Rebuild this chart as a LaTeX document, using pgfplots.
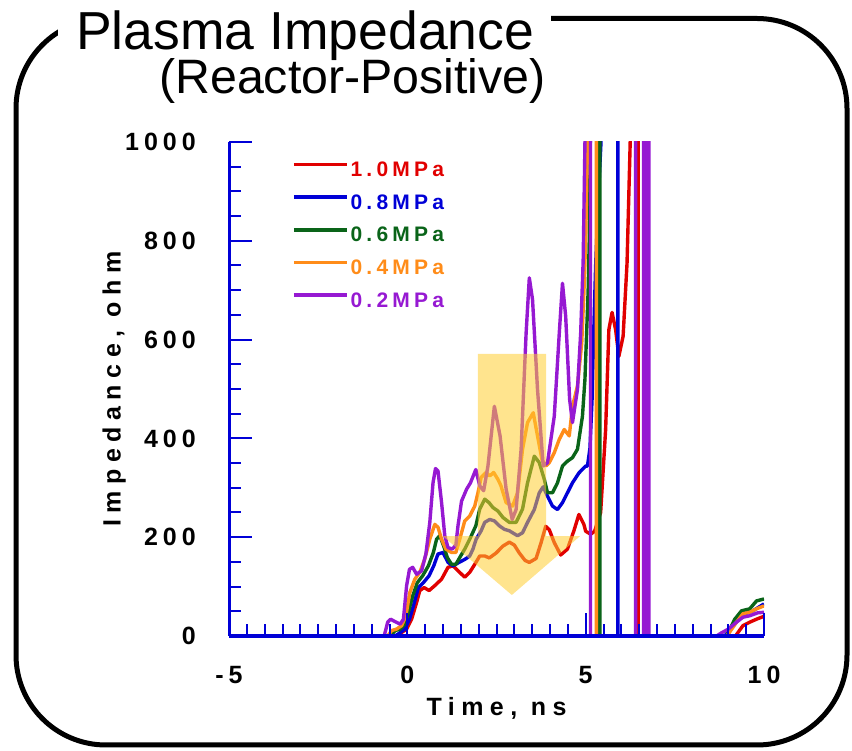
\documentclass[border=0pt]{standalone}
\usepackage{fontspec}
\setmainfont{Liberation Sans}
\newfontfamily\spaced{Liberation Sans}[LetterSpace=20]
\newfontfamily\spacedw{Liberation Sans}[LetterSpace=26]
\usepackage{pgfplots}
\pgfplotsset{compat=1.18}

\definecolor{cred}{RGB}{225,0,0}
\definecolor{cblue}{RGB}{0,0,215}
\definecolor{cgreen}{RGB}{10,100,25}
\definecolor{corange}{RGB}{255,140,25}
\definecolor{cpurple}{RGB}{150,25,210}
\definecolor{carrow}{RGB}{255,205,50}

\newcommand{\tickf}{\spaced\bfseries\fontsize{25bp}{30bp}\selectfont}
\newcommand{\labf}{\spacedw\bfseries\fontsize{25bp}{30bp}\selectfont}
\newcommand{\legf}{\spaced\bfseries\fontsize{21bp}{25bp}\selectfont}

\begin{document}
\begin{tikzpicture}
\useasboundingbox (0,0) rectangle (852bp,751bp);

% rounded frame
\draw[line width=5bp, rounded corners=90bp] (16bp,6bp) rectangle (847bp,732.5bp);

\begin{axis}[
    at={(229bp,115bp)}, anchor=south west,
    scale only axis, width=535bp, height=494bp,
    xmin=-5, xmax=10, ymin=0, ymax=1000,
    axis x line*=bottom, axis y line*=left,
    axis line style={cblue, line width=3bp},
    xtick={-5,0,5,10}, ytick={0,200,...,1000},
    minor x tick num=9, minor y tick num=3,
    tick align=inside,
    major tick length=23bp, minor tick length=12bp,
    every tick/.style={cblue, line width=2bp},
    axis on top,
    /pgf/number format/assume math mode=true,
    /pgf/number format/1000 sep={},
    ticklabel style={font=\tickf, text=black},
    yticklabel style={anchor=east, inner sep=0pt, xshift=-33bp},
    xticklabel style={anchor=north, inner sep=0pt, yshift=-30bp},
    xlabel={Time, ns},
    ylabel={Impedance, ohm},
    label style={font=\labf, inner sep=0pt},
    xlabel style={at={(axis description cs:0.5,0)}, anchor=north, yshift=-61bp},
    ylabel style={at={(axis description cs:-0.1925,0.5)}, anchor=south},
    legend cell align=left,
    legend image code/.code={\path[draw=none, fill=none] (0bp,-5.5bp) -- (0bp,5.5bp);
        \draw[#1] (0bp,5.5bp) -- (53bp,5.5bp);},
    legend style={at={(axis cs:-3.234,960)}, anchor=north west,
        draw=none, fill=none, inner sep=0pt, row sep=16.5bp,
        font=\legf, nodes={inner sep=0pt},
        /tikz/every odd column/.append style={column sep=2bp}},
]

\addplot[cred, line width=3.4bp, line join=round] coordinates {
(-5,0) (-0.30,0) (-0.16,7) (-0.02,14) (0.12,34) (0.26,68) (0.35,92) (0.47,98)
(0.61,92) (0.77,102) (0.96,115) (1.14,139) (1.28,142) (1.42,132) (1.61,119)
(1.75,129) (1.89,145) (2.03,162) (2.17,162) (2.30,158) (2.49,168) (2.68,182)
(2.86,190) (3.0,184) (3.14,168) (3.30,153) (3.42,149) (3.61,157) (3.75,189)
(3.88,222) (3.98,215) (4.12,189) (4.30,164) (4.49,176) (4.67,213) (4.81,246)
(4.95,226) (5.0,212) (5.14,206) (5.25,212) (5.42,250) (5.56,418) (5.65,620)
(5.74,655) (5.84,620) (5.93,566) (6.05,607) (6.16,755) (6.25,1004) (6.28,1300)
(6.47,1300) (6.47,0) (9.2,0) (9.41,21) (9.60,28) (9.79,34) (10,40)};
\addlegendentry{\textcolor{cred}{1.0MPa}}

\addplot[cblue, line width=3.4bp, line join=round] coordinates {
(-5,0) (-0.34,0) (-0.2,7) (-0.07,14) (0.06,34) (0.17,61) (0.31,98) (0.45,108)
(0.61,122) (0.74,142) (0.86,166) (1.0,169) (1.14,149) (1.28,142) (1.45,149)
(1.61,155) (1.75,162) (1.84,176) (1.93,196) (2.07,213) (2.17,230) (2.31,236)
(2.44,233) (2.58,223) (2.72,216) (2.86,213) (2.95,209) (3.09,203) (3.23,209)
(3.37,230) (3.56,256) (3.70,290) (3.81,302) (3.93,283) (4.07,263) (4.21,256)
(4.35,270) (4.49,290) (4.63,310) (4.81,330) (5.0,344) (5.05,344) (5.12,380)
(5.18,480) (5.22,600) (5.28,750) (5.35,880) (5.43,1000) (5.46,1300)
(5.905,1300) (5.905,0) (8.9,0) (9.23,31) (9.46,45) (9.69,51) (10,65)};
\addlegendentry{\textcolor{cblue}{0.8MPa}}

\addplot[cgreen, line width=3.4bp, line join=round] coordinates {
(-5,0) (-0.48,0) (-0.34,11) (-0.2,14) (-0.07,24) (0.03,48) (0.15,81) (0.28,108)
(0.43,122) (0.59,142) (0.73,169) (0.82,196) (0.91,203) (1.02,182) (1.12,159)
(1.24,145) (1.36,145) (1.47,159) (1.61,176) (1.75,196) (1.92,223) (2.03,257)
(2.17,277) (2.29,270) (2.40,260) (2.54,253) (2.68,240) (2.86,230) (3.05,230)
(3.23,257) (3.37,310) (3.56,364) (3.70,351) (3.84,317) (3.93,290) (4.07,290)
(4.21,310) (4.35,344) (4.49,354) (4.63,361) (4.77,378) (4.91,445) (4.98,520)
(5.02,600) (5.07,700) (5.10,800) (5.13,1000) (5.15,1300) (5.40,1300) (5.40,0)
(8.95,0) (9.18,34) (9.37,51) (9.60,55) (9.79,71) (10,75)};
\addlegendentry{\textcolor{cgreen}{0.6MPa}}

\addplot[corange, line width=3.4bp, line join=round] coordinates {
(-5,0) (-0.55,0) (-0.44,11) (-0.30,14) (-0.16,21) (-0.04,41) (0.07,88) (0.21,115)
(0.35,129) (0.49,156) (0.63,196) (0.77,226) (0.86,220) (0.96,196) (1.08,176)
(1.24,169) (1.36,169) (1.47,196) (1.61,233) (1.75,243) (1.89,263) (1.98,290)
(2.07,321) (2.21,331) (2.31,324) (2.42,331) (2.54,317) (2.62,305) (2.77,270)
(2.95,263) (3.09,290) (3.23,378) (3.37,432) (3.53,452) (3.65,405) (3.78,355)
(3.90,345) (3.98,351) (4.12,371) (4.26,398) (4.40,418) (4.54,405) (4.63,465)
(4.77,506) (4.89,593) (4.95,694) (5.0,800) (5.05,1000) (5.08,1300) (5.30,1300)
(5.30,0) (8.95,0) (9.0,4) (9.23,28) (9.41,45) (9.60,48) (9.79,55) (10,61)};
\addlegendentry{\textcolor{corange}{0.4MPa}}

\addplot[cpurple, line width=3.4bp, line join=round] coordinates {
(-5,0) (-0.65,0) (-0.55,28) (-0.47,34) (-0.34,29) (-0.2,24) (-0.11,34) (-0.02,102)
(0.06,135) (0.15,139) (0.26,125) (0.40,132) (0.52,166) (0.63,230) (0.72,310)
(0.79,339) (0.86,334) (0.96,270) (1.05,203) (1.14,179) (1.26,176) (1.36,184)
(1.42,223) (1.52,273) (1.66,297) (1.77,310) (1.92,337) (2.03,304) (2.14,294)
(2.26,344) (2.44,465) (2.60,405) (2.77,297) (2.94,236) (3.05,256) (3.19,378)
(3.33,613) (3.42,725) (3.51,681) (3.65,499) (3.81,344) (3.93,351) (4.12,445)
(4.26,613) (4.35,714) (4.44,647) (4.55,479) (4.63,432) (4.77,499) (4.86,613)
(4.93,760) (4.98,1000) (5.02,1300) (5.135,1300) (5.135,0) (6.40,0) (6.40,1300)
(6.40,0) (6.62,0) (6.62,1300) (6.67,1300) (6.67,0) (6.72,0) (6.72,1300)
(6.77,1300) (6.77,0) (8.67,0) (8.80,6) (9.0,14) (9.23,28) (9.41,38) (9.60,41)
(9.83,47) (10,48)};
\addlegendentry{\textcolor{cpurple}{0.2MPa}}

% shaded arrow
\fill[carrow, opacity=0.55] (axis cs:1.98,571) -- (axis cs:3.89,571)
    -- (axis cs:3.89,202) -- (axis cs:4.84,202) -- (axis cs:2.93,83)
    -- (axis cs:1.0,202) -- (axis cs:1.98,202) -- cycle;
\end{axis}

% title over the frame
\fill[white] (58bp,695bp) rectangle (551bp,751bp);
\node[anchor=base west, inner sep=0pt, font=\fontsize{53.5bp}{60bp}\selectfont]
    at (76bp,701bp) {Plasma Impedance};
\node[anchor=base west, inner sep=0pt, font=\fontsize{48.3bp}{54bp}\selectfont]
    at (159bp,657bp) {(Reactor-Positive)};
\end{tikzpicture}
\end{document}
